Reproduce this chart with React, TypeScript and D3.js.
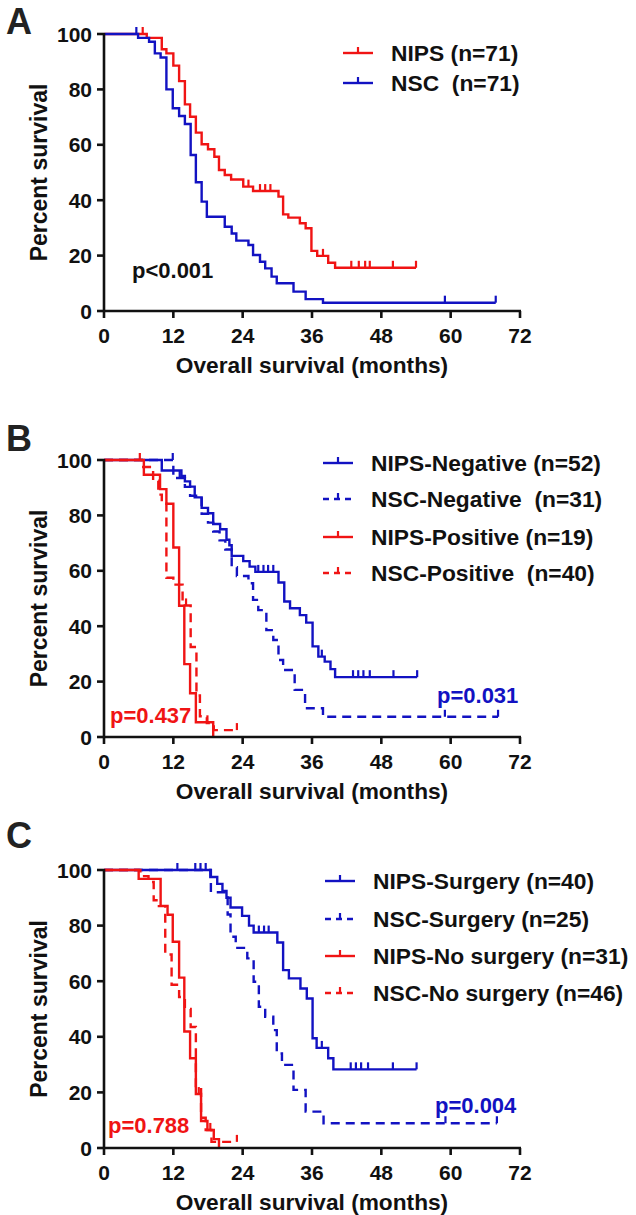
import React from 'react';
import * as d3 from 'd3';

type Step = [number, number];

const RED = '#f01414';
const BLUE = '#1212c2';
const FONT = '"Liberation Sans", Arial, Helvetica, sans-serif';

const xTicks = [0, 12, 24, 36, 48, 60, 72];
const yTicks = [0, 20, 40, 60, 80, 100];

// ---- Panel A: NIPS vs NSC
const aNipsSteps: Step[] = [[7.4, 98.6], [10.0, 94.5], [10.8, 93.0], [12.0, 88.6], [13.0, 83.0], [14.0, 74.6], [14.9, 70.1], [15.9, 64.4], [16.9, 60.2], [18.0, 58.4], [19.1, 55.7], [19.9, 50.9], [20.9, 49.1], [22.0, 47.5], [24.1, 44.9], [25.8, 43.3], [30.2, 41.3], [31.0, 34.9], [31.9, 33.7], [33.9, 31.7], [34.9, 29.9], [35.9, 21.7], [36.9, 19.9], [38.8, 17.4], [40.0, 15.6]];
const aNipsCensored = [6.7, 25.0, 27.0, 27.9, 28.8, 37.9, 42.8, 44.1, 45.2, 46.0, 50.0];
const aNipsEnd = 54.0;

const aNscSteps: Step[] = [[5.9, 98.6], [7.8, 97.2], [8.8, 93.0], [9.8, 91.5], [10.8, 80.0], [11.9, 73.2], [13.0, 70.4], [14.0, 67.5], [15.0, 56.3], [15.9, 46.5], [16.9, 39.5], [17.8, 34.0], [20.9, 30.4], [22.1, 28.0], [22.9, 25.4], [25.0, 23.8], [25.8, 20.2], [27.0, 17.8], [27.9, 15.4], [29.0, 12.4], [29.9, 10.0], [32.8, 7.0], [34.9, 4.3], [37.9, 3.0]];
const aNscCensored = [5.6, 59.0];
const aNscEnd = 67.8;

// ---- Panel B: by peritoneal cytology
const bNipsNegSteps: Step[] = [[10.0, 96.2], [13.4, 94.2], [14.0, 92.3], [14.9, 90.4], [15.7, 86.5], [16.9, 82.7], [18.0, 80.8], [18.9, 76.9], [20.1, 75.0], [21.2, 71.2], [21.7, 69.2], [22.1, 65.4], [24.1, 63.5], [25.2, 61.5], [26.2, 59.6], [30.2, 55.8], [31.2, 48.9], [32.2, 46.5], [33.9, 44.0], [35.0, 41.3], [36.1, 32.7], [37.1, 29.0], [38.2, 27.2], [39.2, 24.5], [40.0, 21.6]];
const bNipsNegCensored = [26.7, 27.6, 28.4, 29.3, 37.7, 43.1, 44.0, 44.9, 46.0, 50.1];
const bNipsNegEnd = 54.2;

const bNscNegSteps: Step[] = [[12.0, 93.5], [14.0, 90.3], [14.9, 87.1], [16.9, 80.6], [18.0, 77.4], [18.9, 74.2], [20.0, 71.0], [21.0, 67.7], [22.1, 61.3], [23.0, 58.1], [25.0, 55.5], [25.8, 49.5], [26.7, 45.8], [28.1, 38.6], [29.3, 35.0], [30.2, 27.8], [31.0, 24.2], [33.0, 17.0], [34.8, 10.4], [37.9, 7.3]];
const bNscNegCensored = [11.9, 13.1, 59.0];
const bNscNegEnd = 68.2;

const bNipsPosSteps: Step[] = [[6.9, 94.7], [9.7, 89.5], [10.8, 84.2], [12.0, 68.4], [13.0, 47.4], [13.9, 26.3], [14.9, 15.8], [15.9, 5.3], [18.9, 0]];
const bNipsPosCensored = [6.2, 17.9];
const bNipsPosEnd = 18.9;

const bNscPosSteps: Step[] = [[6.5, 97.5], [8.5, 92.5], [9.4, 87.5], [10.0, 85.0], [10.8, 57.5], [12.0, 55.0], [13.6, 47.5], [15.0, 32.5], [16.0, 15.0], [16.6, 7.5], [17.8, 5.0], [19.0, 2.5]];
const bNscPosCensored = [14.2];
const bNscPosEnd = 23.0;

// ---- Panel C: by surgery
const cNipsSurgSteps: Step[] = [[18.4, 97.5], [19.6, 95.0], [20.5, 92.5], [21.2, 90.0], [21.9, 86.5], [23.9, 83.5], [25.1, 80.0], [25.9, 77.5], [30.0, 73.9], [31.0, 64.0], [32.0, 61.0], [34.0, 57.4], [35.1, 53.8], [36.1, 39.5], [36.8, 36.0], [38.8, 32.3], [39.7, 28.3]];
const cNipsSurgCensored = [12.7, 15.8, 16.7, 17.6, 26.8, 27.7, 28.5, 37.7, 42.7, 43.6, 44.5, 45.7, 50.0];
const cNipsSurgEnd = 54.1;

const cNscSurgSteps: Step[] = [[18.5, 92.0], [21.4, 84.0], [21.9, 76.0], [22.8, 72.0], [24.8, 68.2], [25.9, 59.8], [26.8, 50.8], [27.9, 47.2], [29.3, 42.4], [29.9, 34.0], [30.8, 29.9], [32.8, 20.9], [34.9, 13.1], [38.0, 8.9]];
const cNscSurgCensored = [59.1];
const cNscSurgEnd = 68.0;

const cNipsNoSteps: Step[] = [[6.0, 96.8], [9.8, 87.1], [11.0, 83.9], [11.9, 74.2], [13.0, 61.3], [13.9, 41.9], [14.9, 32.3], [15.9, 19.4], [16.8, 9.7], [17.9, 6.5], [19.0, 3.2], [19.9, 0]];
const cNipsNoCensored = [16.4, 18.4];
const cNipsNoEnd = 19.9;

const cNscNoSteps: Step[] = [[6.3, 97.8], [7.7, 95.7], [8.6, 89.1], [9.5, 87.0], [10.6, 69.6], [11.7, 58.7], [13.0, 54.3], [14.0, 50.0], [15.0, 43.5], [15.9, 21.7], [16.8, 10.9], [17.6, 6.5], [18.6, 2.2]];
const cNscNoCensored: number[] = [];
const cNscNoEnd = 23.0;

interface Curve {
  steps: Step[];
  censored: number[];
  end: number;
  color: string;
  dashed: boolean;
}

interface LegendItem {
  label: string;
  color: string;
  dashed: boolean;
}

interface PLabel {
  text: string;
  color: string;
  x: number;
  y: number;
}

interface PanelProps {
  letter: string;
  letterY: number;
  top: number;
  bottom: number;
  curves: Curve[];
  legend: LegendItem[];
  legendX: number;
  legendRows: number[];
  pLabels: PLabel[];
}

const levelAt = (steps: Step[], t: number) => {
  let s = 100;
  for (const [st, sv] of steps) {
    if (st <= t) s = sv;
  }
  return s;
};

const Panel = ({ letter, letterY, top, bottom, curves, legend, legendX, legendRows, pLabels }: PanelProps) => {
  const x = d3.scaleLinear().domain([0, 72]).range([104, 520]);
  const y = d3.scaleLinear().domain([0, 100]).range([bottom, top]);
  const line = d3.line<Step>().x(d => x(d[0])).y(d => y(d[1])).curve(d3.curveStepAfter);

  return (
    <g>
      <text x={6} y={letterY} fontSize={36} fontWeight="bold" fill="#222">{letter}</text>

      {curves.map((c, i) => {
        const last = c.steps.length ? c.steps[c.steps.length - 1][1] : 100;
        const pts: Step[] = [[0, 100], ...c.steps, [c.end, last]];
        const ticks = [...c.censored, ...(last > 0 ? [c.end] : [])];
        return (
          <g key={i}>
            <path d={line(pts) || ''} fill="none" stroke={c.color} strokeWidth={2.4}
              strokeDasharray={c.dashed ? '9 6' : undefined} />
            {ticks.map((t, j) => (
              <line key={j} x1={x(t)} x2={x(t)} y1={y(levelAt(c.steps, t))} y2={y(levelAt(c.steps, t)) - 7}
                stroke={c.color} strokeWidth={2.2} />
            ))}
          </g>
        );
      })}

      {/* axes */}
      <g stroke="#111" strokeWidth={2.6} fill="none">
        <line x1={x(0)} x2={x(0)} y1={y(100) - 1} y2={y(0)} />
        <line x1={x(0) - 1} x2={x(72) + 1} y1={y(0)} y2={y(0)} />
        {yTicks.map(v => <line key={'y' + v} x1={x(0) - 7} x2={x(0)} y1={y(v)} y2={y(v)} />)}
        {xTicks.map(v => <line key={'x' + v} x1={x(v)} x2={x(v)} y1={y(0)} y2={y(0) + 7} />)}
      </g>
      <g fontSize={21} fontWeight="bold" fill="#111">
        {yTicks.map(v => (
          <text key={v} x={x(0) - 12} y={y(v)} dy="0.36em" textAnchor="end">{v}</text>
        ))}
        {xTicks.map(v => (
          <text key={v} x={x(v)} y={y(0) + 32} textAnchor="middle">{v}</text>
        ))}
      </g>
      <text x={312} y={bottom + 62} fontSize={22.7} fontWeight="bold" fill="#111" textAnchor="middle">
        Overall survival (months)
      </text>
      <text transform={`translate(47,${(top + bottom) / 2}) rotate(-90)`} fontSize={23} fontWeight="bold"
        fill="#111" textAnchor="middle">Percent survival</text>

      {/* legend */}
      {legend.map((l, i) => {
        const ly = legendRows[i];
        const lx = legendX;
        return (
          <g key={l.label}>
            <line x1={lx} x2={lx + 30} y1={ly} y2={ly} stroke={l.color} strokeWidth={2.4}
              strokeDasharray={l.dashed ? '6 5' : undefined} />
            <line x1={lx + 15} x2={lx + 15} y1={ly} y2={ly - 6} stroke={l.color} strokeWidth={2.2} />
            <text x={lx + 48} y={ly} dy="0.36em" fontSize={22.8} fontWeight="bold" fill="#111"
              style={{ whiteSpace: 'pre' }}>{l.label}</text>
          </g>
        );
      })}

      {pLabels.map(p => (
        <text key={p.text} x={p.x} y={p.y} fontSize={22} fontWeight="bold" fill={p.color}>{p.text}</text>
      ))}
    </g>
  );
};

export default function App() {
  return (
    <svg width={636} height={1215} fontFamily={FONT}
      style={{ position: 'absolute', left: 0, top: 0, background: '#fff' }}>
      <Panel
        letter="A" letterY={34} top={34} bottom={311}
        curves={[
          { steps: aNipsSteps, censored: aNipsCensored, end: aNipsEnd, color: RED, dashed: false },
          { steps: aNscSteps, censored: aNscCensored, end: aNscEnd, color: BLUE, dashed: false },
        ]}
        legend={[
          { label: 'NIPS (n=71)', color: RED, dashed: false },
          { label: 'NSC  (n=71)', color: BLUE, dashed: false },
        ]}
        legendX={343} legendRows={[53, 83]}
        pLabels={[{ text: 'p<0.001', color: '#111', x: 132, y: 278 }]}
      />
      <Panel
        letter="B" letterY={451} top={460} bottom={737}
        curves={[
          { steps: bNscNegSteps, censored: bNscNegCensored, end: bNscNegEnd, color: BLUE, dashed: true },
          { steps: bNipsNegSteps, censored: bNipsNegCensored, end: bNipsNegEnd, color: BLUE, dashed: false },
          { steps: bNscPosSteps, censored: bNscPosCensored, end: bNscPosEnd, color: RED, dashed: true },
          { steps: bNipsPosSteps, censored: bNipsPosCensored, end: bNipsPosEnd, color: RED, dashed: false },
        ]}
        legend={[
          { label: 'NIPS-Negative (n=52)', color: BLUE, dashed: false },
          { label: 'NSC-Negative  (n=31)', color: BLUE, dashed: true },
          { label: 'NIPS-Positive (n=19)', color: RED, dashed: false },
          { label: 'NSC-Positive  (n=40)', color: RED, dashed: true },
        ]}
        legendX={323} legendRows={[463, 499, 537, 573]}
        pLabels={[
          { text: 'p=0.437', color: RED, x: 110, y: 723 },
          { text: 'p=0.031', color: BLUE, x: 437, y: 703 },
        ]}
      />
      <Panel
        letter="C" letterY={848} top={870} bottom={1148}
        curves={[
          { steps: cNscSurgSteps, censored: cNscSurgCensored, end: cNscSurgEnd, color: BLUE, dashed: true },
          { steps: cNipsSurgSteps, censored: cNipsSurgCensored, end: cNipsSurgEnd, color: BLUE, dashed: false },
          { steps: cNscNoSteps, censored: cNscNoCensored, end: cNscNoEnd, color: RED, dashed: true },
          { steps: cNipsNoSteps, censored: cNipsNoCensored, end: cNipsNoEnd, color: RED, dashed: false },
        ]}
        legend={[
          { label: 'NIPS-Surgery (n=40)', color: BLUE, dashed: false },
          { label: 'NSC-Surgery (n=25)', color: BLUE, dashed: true },
          { label: 'NIPS-No surgery (n=31)', color: RED, dashed: false },
          { label: 'NSC-No surgery (n=46)', color: RED, dashed: true },
        ]}
        legendX={325} legendRows={[881, 919, 956, 993]}
        pLabels={[
          { text: 'p=0.788', color: RED, x: 108, y: 1133 },
          { text: 'p=0.004', color: BLUE, x: 435, y: 1113 },
        ]}
      />
    </svg>
  );
}
